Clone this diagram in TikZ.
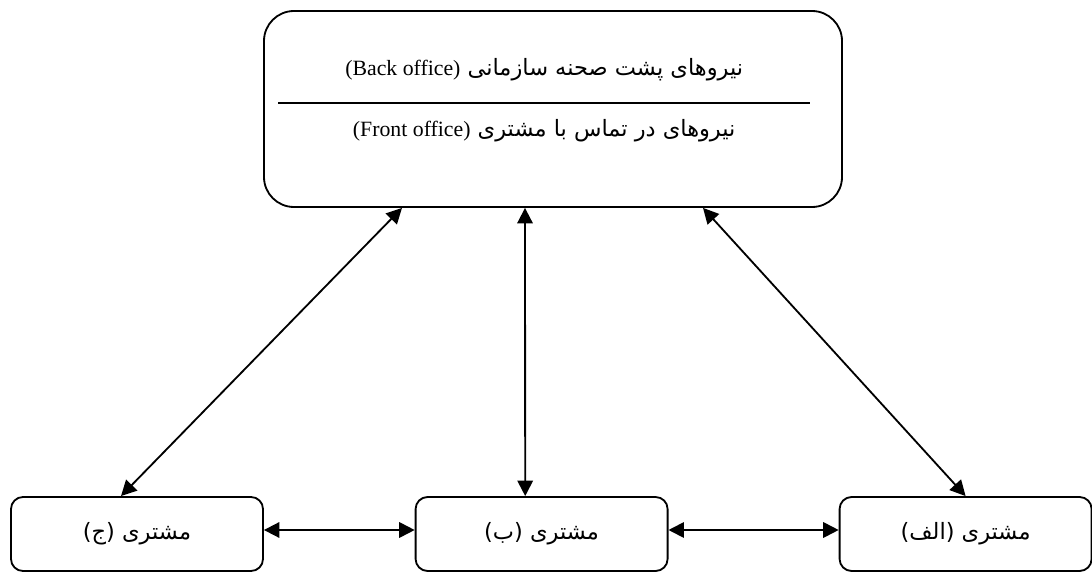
\documentclass[tikz,border=0pt]{standalone}
\usepackage{fontspec}
\setmainfont{Liberation Serif}
\newfontfamily\farsi[Script=Arabic]{DejaVu Sans}
\TeXXeTstate=1
\usetikzlibrary{arrows.meta}
\begin{document}
\begin{tikzpicture}[
  box/.style = {draw, line width=1.3pt, rounded corners=0.3cm, minimum width=6.3cm, minimum height=1.85cm},
  link/.style = {line width=1.3pt, {Triangle[length=11pt,width=11pt]}-{Triangle[length=11pt,width=11pt]}},
  lbl/.style = {font=\fontsize{16}{18}\selectfont}
]
\useasboundingbox (0,0) rectangle (27.3,-14.35);
% office box
\node[draw, line width=1.3pt, rounded corners=0.75cm, minimum width=14.45cm, minimum height=4.9cm] (office) at (13.825,-2.725) {};
\node[lbl] (back) at ([shift={(-0.22,0.975)}]office.center) {\farsi\beginR نیروهای پشت صحنه سازمانی \beginL{\rmfamily\fontsize{15.5}{18}\selectfont(Back office)}\endL\endR};
\node[lbl] (front) at ([shift={(-0.22,-0.55)}]office.center) {\farsi\beginR نیروهای در تماس با مشتری \beginL{\rmfamily\fontsize{15.5}{18}\selectfont(Front office)}\endL\endR};
\draw[line width=1.3pt] ([shift={(-6.875,0.15)}]office.center) -- ([shift={(6.425,0.15)}]office.center);
% customers
\node[box] (custC) at (3.425,-13.35) {};
\node[box] (custB) at (13.54,-13.35) {};
\node[box] (custA) at (24.14,-13.35) {};
\node[lbl] (txtC) at (custC) {\farsi\beginR مشتری (ج)\endR};
\node[lbl] (txtB) at (custB) {\farsi\beginR مشتری (ب)\endR};
\node[lbl] (txtA) at (custA) {\farsi\beginR مشتری (الف)\endR};
% links
\draw[link] ([xshift=-3.775cm]office.south) -- ([xshift=-0.4cm]custC.north);
\draw[link] ([xshift=-0.7cm]office.south) -- ([xshift=-0.41cm]custB.north);
\draw[link] ([xshift=3.75cm]office.south) -- (custA.north);
\draw[link] ([yshift=0.1cm]custC.east) -- ([yshift=0.1cm]custB.west);
\draw[link] ([yshift=0.1cm]custB.east) -- ([yshift=0.1cm]custA.west);
\end{tikzpicture}
\end{document}
